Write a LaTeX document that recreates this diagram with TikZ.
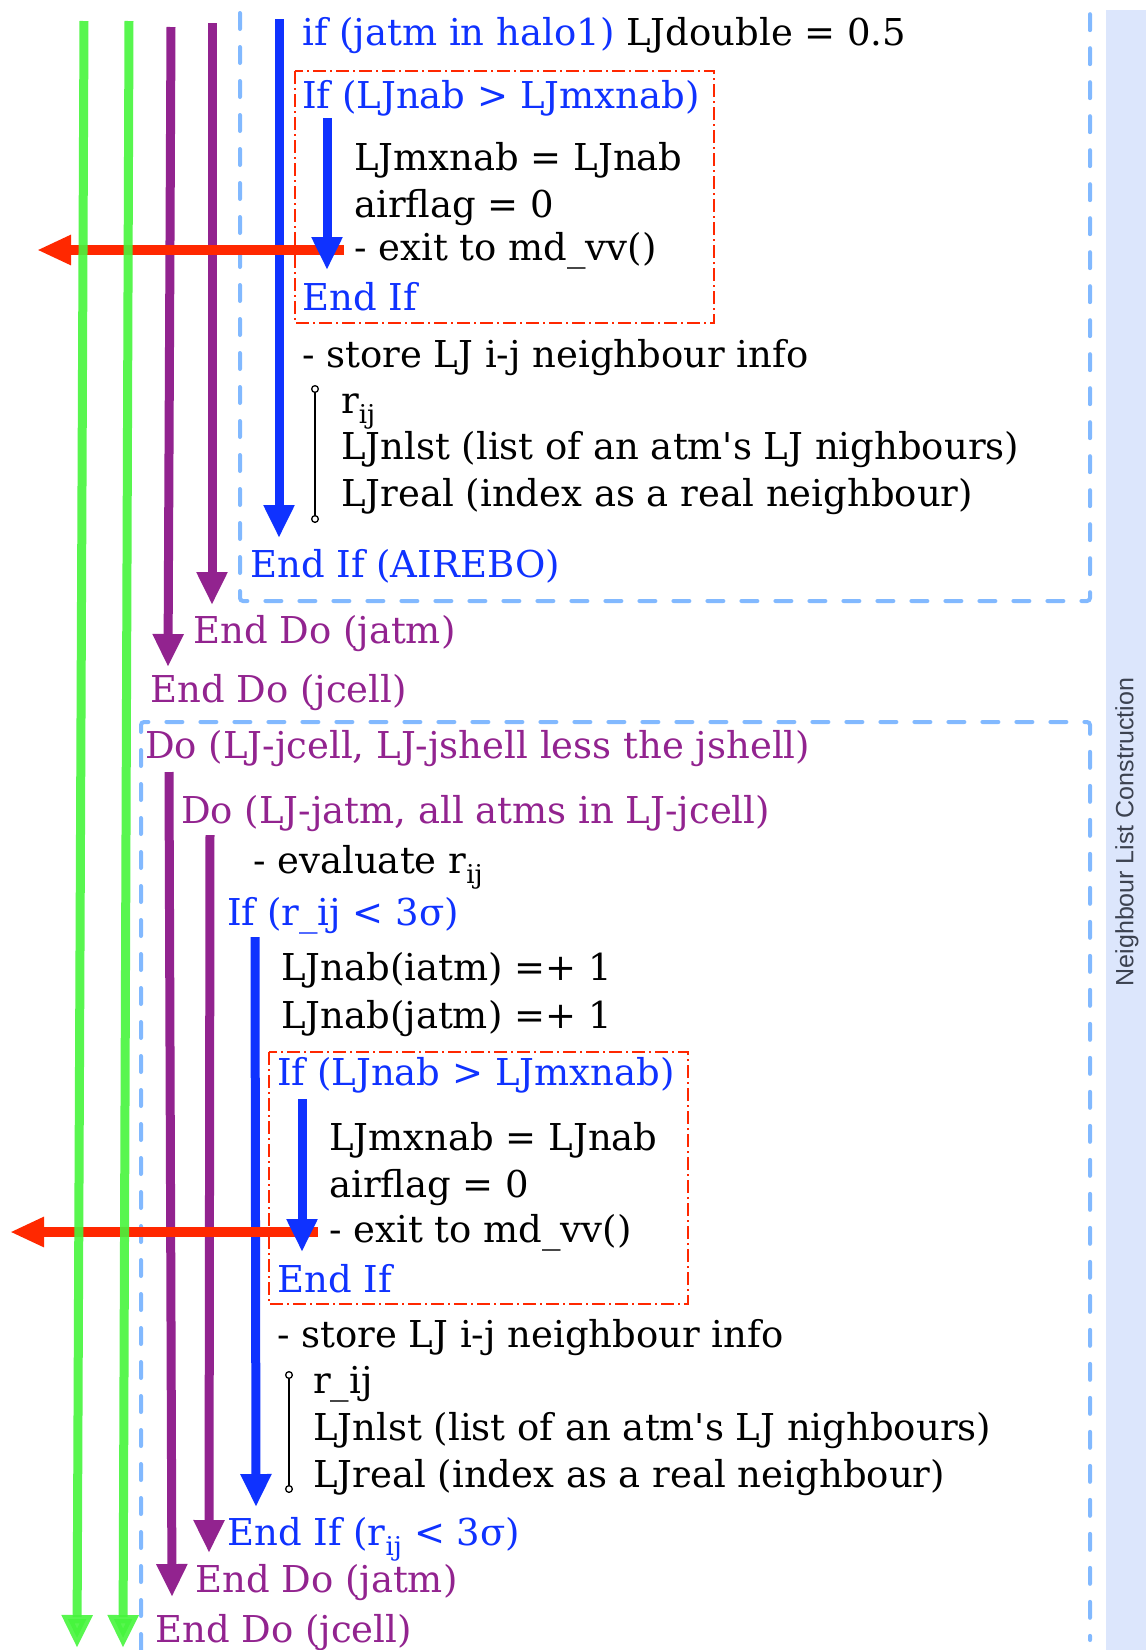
\documentclass[tikz,border=0pt]{standalone}
\usepackage{fontspec}
\setmainfont{DejaVu Serif}
\newfontfamily\labelfont{Liberation Sans}
\usetikzlibrary{arrows.meta,positioning}

\definecolor{loopgreen}{RGB}{70,245,60}
\definecolor{looppurple}{RGB}{146,35,143}
\definecolor{ifblue}{RGB}{15,50,255}
\definecolor{exitred}{RGB}{255,40,0}
\definecolor{boxblue}{RGB}{130,185,255}
\definecolor{bandblue}{RGB}{220,230,252}
\definecolor{labelgrey}{RGB}{60,66,80}

\tikzset{
  codeline/.style={anchor=base west, inner sep=0pt, font=\fontsize{37}{44}\selectfont},
  kwline/.style={codeline, text=ifblue},
  doline/.style={codeline, text=looppurple},
  flow/.style={line width=9pt, -{Triangle[length=33pt,width=29pt]}},
  exitflow/.style={exitred, line width=10pt, -{Triangle[length=34pt,width=28pt]}},
  blockbox/.style={boxblue, line width=4pt, line cap=round, dash pattern=on 16pt off 18pt, rounded corners=3pt},
  ifbox/.style={exitred, line width=1.5pt, dash pattern=on 13pt off 4pt on 2pt off 4pt},
  keep/.style={line width=1.3pt, {Circle[open,length=8pt]}-{Circle[open,length=8pt]}}
}

\begin{document}
\begin{tikzpicture}[x=1pt,y=-1pt]
\useasboundingbox (0,0) rectangle (1146,1650);
\fill[bandblue] (1106,10) rectangle (1146,1650);
\node[rotate=90, text=labelgrey, font=\labelfont\fontsize{25}{30}\selectfont] (side) at (1127,832) {Neighbour List Construction};

% AIREBO block
\draw[blockbox] (240,13) -- (240,601) -- (1090,601) -- (1090,13);
\draw[ifbox] (295,71) rectangle (714,323);
\node[codeline] (ifHalo) at (302,45) {{\color{ifblue}if (jatm in halo1)} LJdouble = 0.5};
\node[kwline] (ifMax1) at (302,108) {If (LJnab > LJmxnab)};
\node[codeline] (mx1) at (354,170) {LJmxnab = LJnab};
\node[codeline] (flag1) at (354,217) {airflag = 0};
\node[codeline] (exit1) at (354,260) {- exit to md\_vv()};
\node[kwline] (endIf1) at (302,310) {End If};
\node[codeline] (store1) at (302,367) {- store LJ i-j neighbour info};
\node[codeline] (rij1) at (341,413) {r\textsubscript{ij}};
\node[codeline] (nlst1) at (341,459) {LJnlst (list of an atm\textquotesingle s LJ nighbours)};
\node[codeline] (real1) at (341,506) {LJreal (index as a real neighbour)};
\node[kwline] (endAirebo) at (250,577) {End If (AIREBO)};
\node[doline] (endJatm1) at (193,643) {End Do (jatm)};
\node[doline] (endJcell1) at (150,702) {End Do (jcell)};

% LJ block
\draw[blockbox] (141,1650) -- (141,722) -- (1090,722) -- (1090,1640);
\draw[ifbox] (269,1052) rectangle (688,1304);
\node[doline] (doJcell) at (145,758) {Do (LJ-jcell, LJ-jshell less the jshell)};
\node[doline] (doJatm) at (181,823) {Do (LJ-jatm, all atms in LJ-jcell)};
\node[codeline] (evalR) at (253,873) {- evaluate r\textsubscript{ij}};
\node[kwline] (ifR) at (227,925) {If (r\_ij < 3σ)};
\node[codeline] (nabI) at (281,980) {LJnab(iatm) =+ 1};
\node[codeline] (nabJ) at (281,1028) {LJnab(jatm) =+ 1};
\node[kwline] (ifMax2) at (277,1085) {If (LJnab > LJmxnab)};
\node[codeline] (mx2) at (329,1150) {LJmxnab = LJnab};
\node[codeline] (flag2) at (329,1197) {airflag = 0};
\node[codeline] (exit2) at (329,1242) {- exit to md\_vv()};
\node[kwline] (endIf2) at (277,1292) {End If};
\node[codeline] (store2) at (277,1347) {- store LJ i-j neighbour info};
\node[codeline] (rij2) at (313,1393) {r\_ij};
\node[codeline] (nlst2) at (313,1440) {LJnlst (list of an atm\textquotesingle s LJ nighbours)};
\node[codeline] (real2) at (313,1487) {LJreal (index as a real neighbour)};
\node[kwline] (endIfR) at (227,1545) {End If (r\textsubscript{ij} < 3σ)};
\node[doline] (endJatm2) at (195,1592) {End Do (jatm)};
\node[doline] (endJcell2) at (155,1642) {End Do (jcell)};

% loop ends
\coordinate (p1s) at (171,27);  \coordinate (p1e) at (168,667);
\coordinate (p2s) at (212,23);  \coordinate (p2e) at (212,605);
\coordinate (b1s) at (279,19);  \coordinate (b1e) at (279,538);
\coordinate (m1s) at (327,118); \coordinate (m1e) at (327,270);
\coordinate (r1s) at (344,250); \coordinate (r1e) at (37,250);
\coordinate (p3s) at (169,772); \coordinate (p3e) at (172,1597);
\coordinate (p4s) at (210,835); \coordinate (p4e) at (209,1553);
\coordinate (b2s) at (255,937); \coordinate (b2e) at (256,1507);
\coordinate (m2s) at (302,1099); \coordinate (m2e) at (302,1252);
\coordinate (r2s) at (318,1232); \coordinate (r2e) at (10,1232);
\coordinate (g1s) at (84,21);   \coordinate (g1e) at (77,1648);
\coordinate (g2s) at (129,21);  \coordinate (g2e) at (123,1648);
\coordinate (k1s) at (315,385); \coordinate (k1e) at (315,523);
\coordinate (k2s) at (289,1371); \coordinate (k2e) at (289,1493);

\draw[keep] (k1s) -- (k1e);
\draw[keep] (k2s) -- (k2e);
\draw[flow, looppurple] (p1s) -- (p1e);
\draw[flow, looppurple] (p2s) -- (p2e);
\draw[flow, looppurple] (p3s) -- (p3e);
\draw[flow, looppurple] (p4s) -- (p4e);
\draw[flow, ifblue] (b1s) -- (b1e);
\draw[flow, ifblue] (b2s) -- (b2e);
\draw[exitflow] (r1s) -- (r1e);
\draw[exitflow] (r2s) -- (r2e);
\draw[flow, ifblue] (m1s) -- (m1e);
\draw[flow, ifblue] (m2s) -- (m2e);
\draw[flow, loopgreen, opacity=0.9] (g1s) -- (g1e);
\draw[flow, loopgreen, opacity=0.9] (g2s) -- (g2e);
\end{tikzpicture}
\end{document}
